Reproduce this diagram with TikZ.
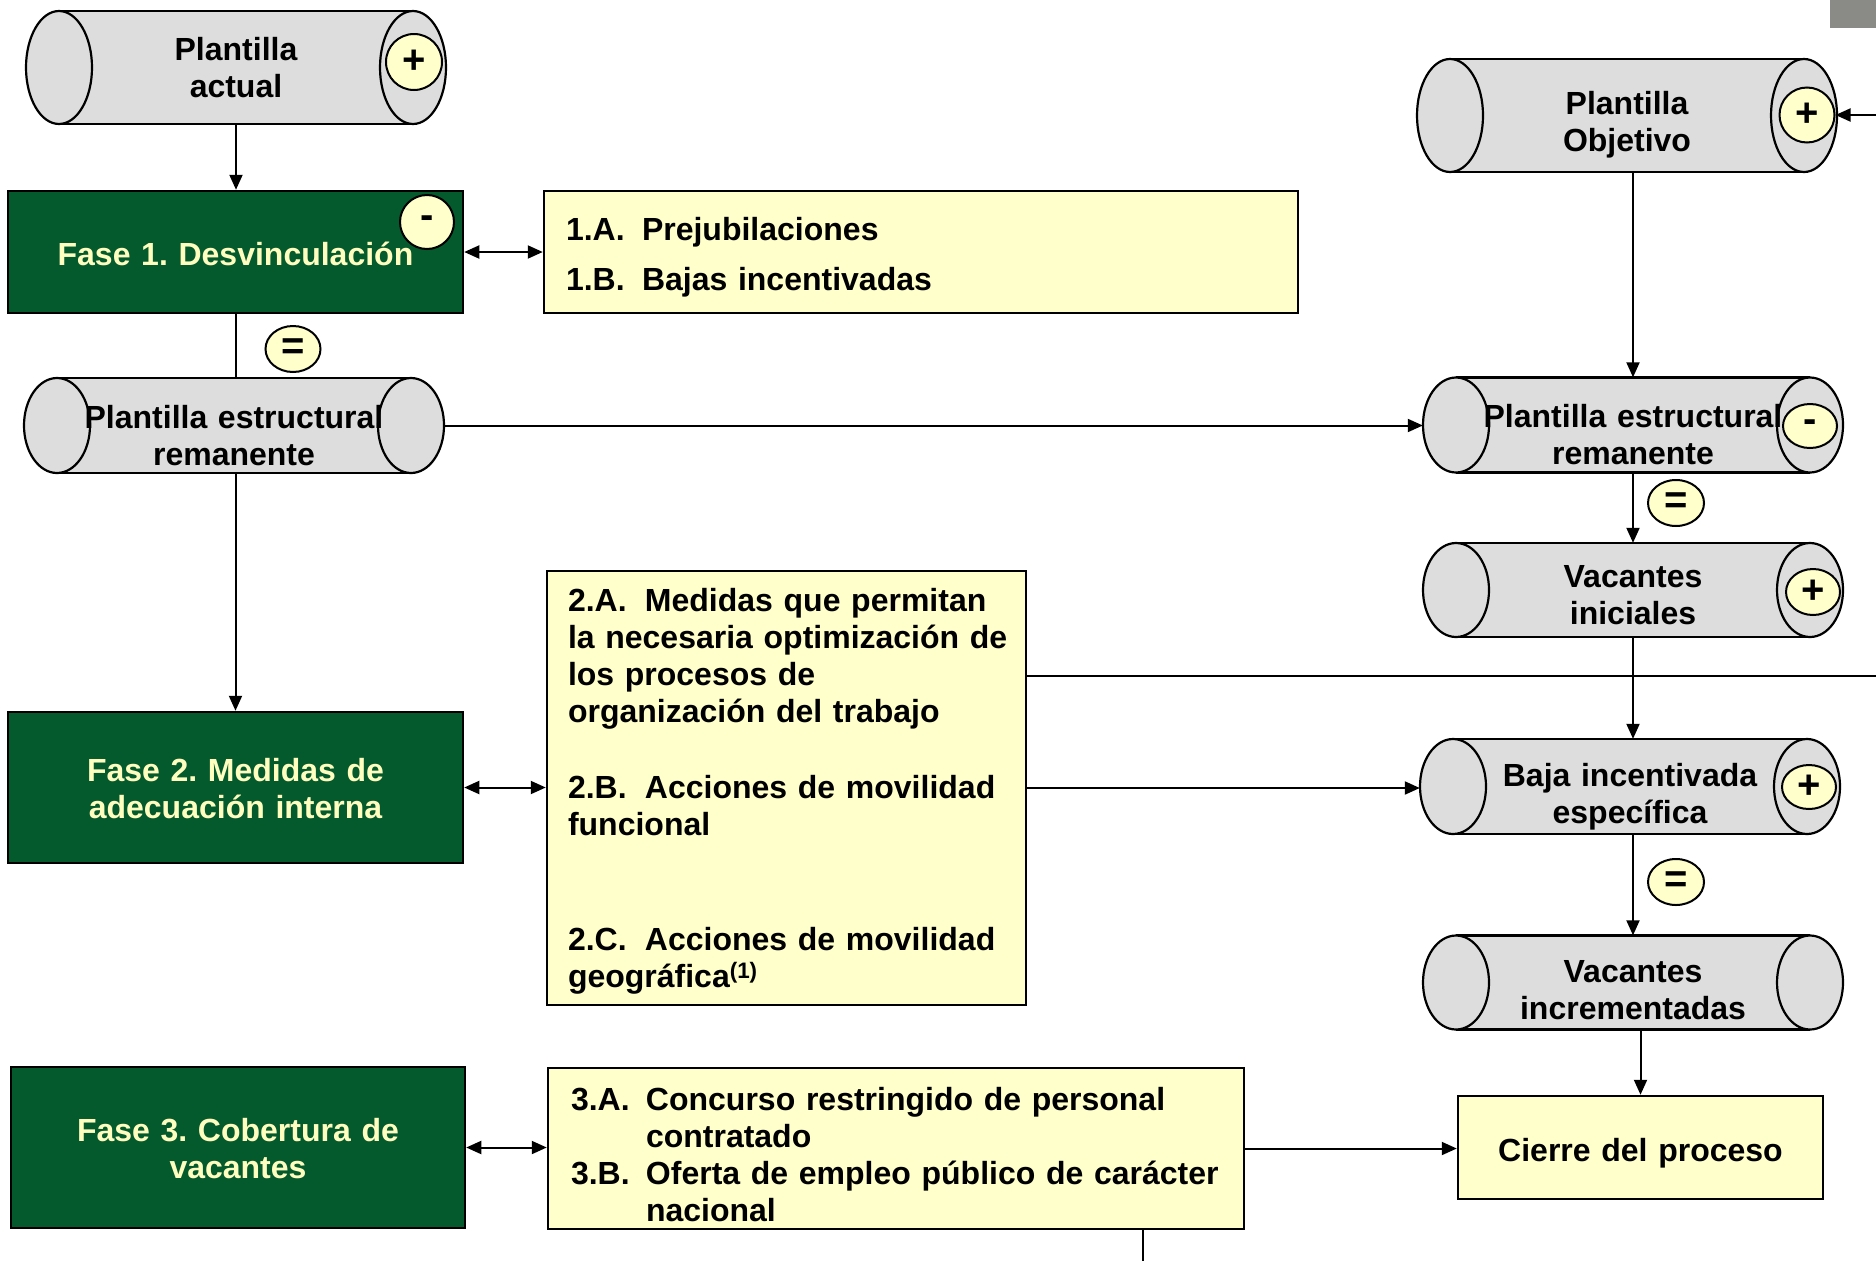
\documentclass[tikz,border=0pt]{standalone}
\usepackage{fontspec}
\setmainfont{Liberation Sans}
\usetikzlibrary{arrows.meta,positioning,calc,shapes.geometric}
\definecolor{fasegreen}{RGB}{4,90,44}
\definecolor{fasetext}{RGB}{255,255,192}
\definecolor{notecream}{RGB}{255,255,204}
\definecolor{tubegray}{RGB}{221,221,221}
\definecolor{cornergray}{RGB}{138,138,135}
\newcommand{\boxfont}{\fontsize{32}{37}\selectfont\bfseries\frenchspacing}
% lowers a text block by #1 inside its node
\newcommand{\drop}[1]{\rule{0pt}{\dimexpr 23pt+#1pt*2\relax}}
\tikzset{
  fase/.style={draw=black, line width=2.5pt, fill=fasegreen, text=fasetext, font=\boxfont, align=center, inner sep=0pt, text width=440pt},
  nota/.style={draw=black, line width=2.5pt, fill=notecream, font=\boxfont, align=left, inner sep=0pt},
  badge/.style={ellipse, draw=black, line width=2pt, fill=notecream, font=\fontsize{40}{40}\selectfont\bfseries, inner sep=0pt},
  tube/.style={draw=black, line width=2.2pt, fill=tubegray},
  tubeedge/.style={draw=black, line width=2.2pt},
  tubetext/.style={rectangle, inner sep=0pt, font=\boxfont, align=center, text width=400pt},
  wire/.style={line width=2pt},
  flow/.style={line width=2pt, -{Triangle[length=15pt,width=13pt]}},
  twoway/.style={line width=2pt, {Triangle[length=15pt,width=13pt]}-{Triangle[length=15pt,width=13pt]}},
}
% name, centre x, centre y, height, text drop, text
\newcommand{\tubo}[6]{%
  \begin{scope}[shift={(#2,#3)}]
    \fill[tubegray] (-177,-#4/2) rectangle (177,#4/2);
    \draw[tubeedge] (-177,-#4/2) -- (177,-#4/2) (-177,#4/2) -- (177,#4/2);
    \filldraw[tube] (-177,0) ellipse [x radius=33, y radius=#4/2];
    \filldraw[tube] (177,0) ellipse [x radius=33, y radius=#4/2];
  \end{scope}
  \node[tubetext, minimum width=420pt, minimum height=#4pt] (#1) at (#2,#3) {\drop{#5}#6};
}

\begin{document}
\begin{tikzpicture}[x=1pt, y=-1pt]
  \useasboundingbox (0,0) rectangle (1876,1261);
  \fill[cornergray] (1830,0) rectangle (1876,28);
  % left column: phases
  \tubo{actual}{236}{67.5}{113}{0.5}{Plantilla\\actual}
  \node[fase, minimum width=455pt, minimum height=122pt] (fase1) at (235.5,252) {\drop{2.5}Fase 1. Desvinculación};
  \tubo{remL}{234}{425.5}{95}{10}{Plantilla estructural\\remanente}
  \node[fase, minimum width=455pt, minimum height=151pt] (fase2) at (235.5,787.5) {\drop{1.5}Fase 2. Medidas de\\adecuación interna};
  \node[fase, minimum width=454pt, minimum height=161pt] (fase3) at (238,1147.5) {\drop{1.5}Fase 3. Cobertura de\\vacantes};

  % measures of each phase
  \node[nota, minimum width=754pt, minimum height=122pt, text width=710pt,
        font=\fontsize{32}{50}\selectfont\bfseries] (box1) at (921,252)
    {\drop{5}\makebox[76pt][l]{1.A.}Prejubilaciones\\
     \makebox[76pt][l]{1.B.}Bajas incentivadas};
  \node[nota, minimum width=479pt, minimum height=434pt, text width=437pt] (box2) at (786.5,788)
    {\drop{3}\makebox[77pt][l]{2.A.}Medidas que permitan\\
     \mbox{la necesaria optimización de}\\
     los procesos de\\
     organización del trabajo\\[39pt]
     \makebox[77pt][l]{2.B.}Acciones de movilidad\\
     funcional\\[78pt]
     \makebox[77pt][l]{2.C.}Acciones de movilidad\\
     geográfica\textsuperscript{(1)}};
  \node[nota, minimum width=696pt, minimum height=161pt, text width=650pt] (box3) at (896,1148.5)
    {\drop{6}\makebox[75pt][l]{3.A.}Concurso restringido de personal\\
     \hspace*{75pt}contratado\\
     \makebox[75pt][l]{3.B.}\mbox{Oferta de empleo público de carácter}\\
     \hspace*{75pt}nacional};

  % right column: staff balance
  \tubo{objetivo}{1627}{115.5}{113}{9.5}{Plantilla\\Objetivo}
  \tubo{remR}{1633}{425}{95}{10}{Plantilla estructural\\remanente}
  \tubo{vacini}{1633}{590}{94}{5}{Vacantes\\iniciales}
  \tubo{baja}{1630}{786.5}{95}{10}{Baja incentivada\\específica}
  \tubo{vacinc}{1633}{982.5}{94}{7}{Vacantes\\incrementadas}
  \node[nota, align=center, text width=360pt, minimum width=365pt, minimum height=103pt] (cierre) at (1640.5,1147.5) {\drop{6}Cierre del proceso};

  % signs
  \node[badge, minimum width=56pt, minimum height=56pt] (actual-plus) at (414,62) {+};
  \node[badge, minimum width=54pt, minimum height=54pt] (fase1-minus) at (427,222) {-};
  \node[badge, minimum width=55pt, minimum height=46pt] (eq-left) at (293,349) {=};
  \node[badge, minimum width=55pt, minimum height=55pt] (objetivo-plus) at (1807,115) {+};
  \node[badge, minimum width=54pt, minimum height=44pt] (remR-minus) at (1810,426) {-};
  \node[badge, minimum width=56pt, minimum height=46pt] (eq-top) at (1676,503) {=};
  \node[badge, minimum width=54pt, minimum height=46pt] (vacini-plus) at (1813,592) {+};
  \node[badge, minimum width=54pt, minimum height=44pt] (baja-plus) at (1809,787) {+};
  \node[badge, minimum width=56pt, minimum height=46pt] (eq-bottom) at (1676,882) {=};

  % connectors
  \coordinate (objin) at (1876,115);
  \coordinate (box2out) at (1876,676);
  \coordinate (box3out) at (1143,1261);
  \draw[flow] (actual.south) -- (actual.south |- fase1.north);
  \draw[twoway] (fase1.east) -- (box1.west);
  \draw[wire] (fase1.south) -- (fase1.south |- remL.north);
  \draw[flow] (fase2.north |- remL.south) -- (fase2.north);
  \draw[flow] (remL.east) -- (remL.east -| remR.west);
  \draw[twoway] (fase2.east) -- (fase2.east -| box2.west);
  \draw[twoway] (fase3.east) -- (fase3.east -| box3.west);
  \draw[flow] (objin) -- (objetivo-plus.east);
  \draw[flow] (objetivo.south -| remR.north) -- (remR.north);
  \draw[flow] (remR.south) -- (vacini.north);
  \draw[flow] (vacini.south) -- (vacini.south |- baja.north);
  \draw[wire] (box2.east |- box2out) -- (box2out);
  \draw[flow] (box2.east) -- (box2.east -| baja.west);
  \draw[flow] (baja.south -| vacinc.north) -- (vacinc.north);
  \draw[flow] (vacinc.south -| cierre.north) -- (cierre.north);
  \draw[flow] (box3.east) -- (box3.east -| cierre.west);
  \draw[wire] (box3.south -| box3out) -- (box3out);
\end{tikzpicture}
\end{document}
